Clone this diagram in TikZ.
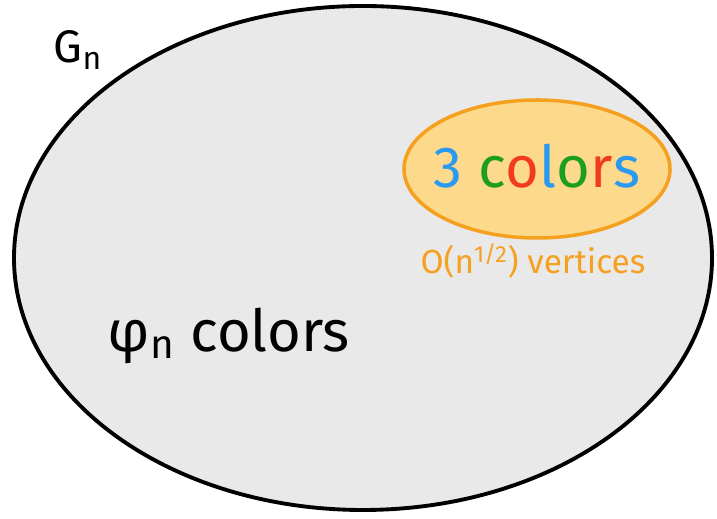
\documentclass[tikz,border=0pt]{standalone}
\usepackage{fontspec}
\setmainfont{Fira Sans}
\definecolor{cblue}{HTML}{2A9AF0}
\definecolor{cgreen}{HTML}{1E9E1E}
\definecolor{cred}{HTML}{F23A1C}
\definecolor{corange}{HTML}{F6A020}
\definecolor{cpeach}{HTML}{FDD98C}
\definecolor{cgray}{HTML}{E9E9E9}
\tikzset{
  big/.style={font=\fontsize{33}{36}\selectfont},
  small/.style={font=\fontsize{19}{21}\selectfont, text=corange}
}
\begin{document}
\begin{tikzpicture}[x=0.02cm, y=-0.02cm]
  \useasboundingbox (0,0) rectangle (717,519);

  \draw[line width=2.2pt, fill=cgray] (363,258) ellipse [x radius=349, y radius=252];
  \node (gn) at (78,50) {\fontsize{26}{28}\selectfont G\textsubscript{n}};

  \draw[line width=2pt, draw=corange, fill=cpeach] (537,169) ellipse [x radius=133, y radius=69];
  \node[big] (three) at (537,166) {\textcolor{cblue}{3} \textcolor{cgreen}{c}\textcolor{cred}{o}\textcolor{cblue}{l}\textcolor{cgreen}{o}\textcolor{cred}{r}\textcolor{cblue}{s}};
  \node[small] (vert) at (533,261) {O(n\textsuperscript{1/2}) vertices};

  \node[big] (phi) at (229,336) {φ\textsubscript{n} colors};
\end{tikzpicture}
\end{document}
